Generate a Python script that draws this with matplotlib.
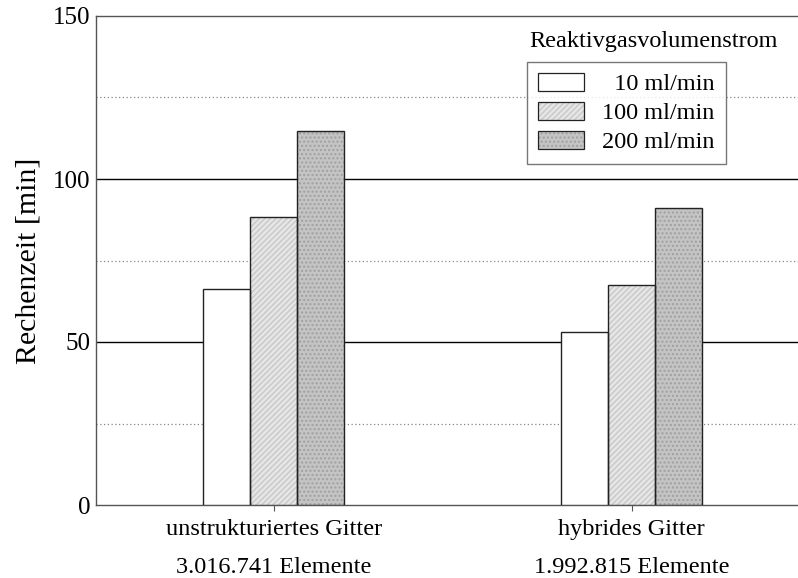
import numpy as np
import matplotlib.pyplot as plt
from matplotlib.patches import Patch

plt.rcParams['font.family'] = ['Liberation Serif', 'DejaVu Serif']

groups = ["unstrukturiertes Gitter\n3.016.741 Elemente", "hybrides Gitter\n1.992.815 Elemente"]
series = ["  10 ml/min", "100 ml/min", "200 ml/min"]
values_10 = [66.3, 53.1]
values_100 = [88.3, 67.5]
values_200 = [114.7, 91.1]

fills = ["white", "#e6e6e6", "#c4c4c4"]
hatch_cols = ["white", "#c8c8c8", "#a0a0a0"]
hatches = [None, "//////", "...."]

fig = plt.figure(figsize=(7.98, 5.78), dpi=100)
ax = fig.add_axes([96 / 798, 1 - 505 / 578, 702 / 798, 489 / 578])

x = np.arange(len(groups))
w = 0.131
for i, vals in enumerate([values_10, values_100, values_200]):
    pos = x + (i - 1) * w
    ax.bar(pos, vals, w, color=fills[i], hatch=hatches[i], edgecolor=hatch_cols[i],
           linewidth=0, zorder=3)
    ax.bar(pos, vals, w, fill=False, edgecolor="#222222", linewidth=1.0, zorder=4)

for y in [50, 100]:
    ax.axhline(y, color="black", linewidth=1.0, zorder=1)
for y in [25, 75, 125]:
    ax.axhline(y, color="#888888", linewidth=0.9, linestyle=(0, (1, 2)), zorder=1)

ax.set_xlim(-0.496, 1.464)
ax.set_ylim(0, 150)
ax.set_yticks([0, 50, 100, 150])
ax.set_xticks(x)
ax.set_xticklabels(groups, fontsize=17.5, linespacing=2.05)
ax.tick_params(axis="y", length=0, labelsize=18, pad=4)
ax.tick_params(axis="x", length=4, width=0.8, color="#555555", pad=6)
for s in ["left", "bottom", "top"]:
    ax.spines[s].set_color("#555555")
    ax.spines[s].set_linewidth(1.0)
ax.spines["right"].set_visible(False)
ax.set_ylabel("Rechenzeit [min]", fontsize=21.5, labelpad=8)

handles = [(Patch(facecolor=fills[i], hatch=hatches[i], edgecolor=hatch_cols[i], linewidth=0),
            Patch(fill=False, edgecolor="#222222", linewidth=0.9))
           for i in range(3)]
leg = ax.legend(handles, series, loc="upper left",
                bbox_to_anchor=(527 / 798, 1 - 62 / 578), bbox_transform=fig.transFigure,
                borderaxespad=0, fontsize=17.5, frameon=True, fancybox=False,
                edgecolor="#555555", handlelength=1.9, handleheight=0.75,
                handletextpad=0.75, labelspacing=0.27, borderpad=0.45)
leg.get_frame().set_linewidth(1.0)
fig.text(654 / 798, 1 - 42 / 578, "Reaktivgasvolumenstrom", fontsize=17.5,
         ha="center", va="center")

fig.savefig("out.png", dpi=100)
